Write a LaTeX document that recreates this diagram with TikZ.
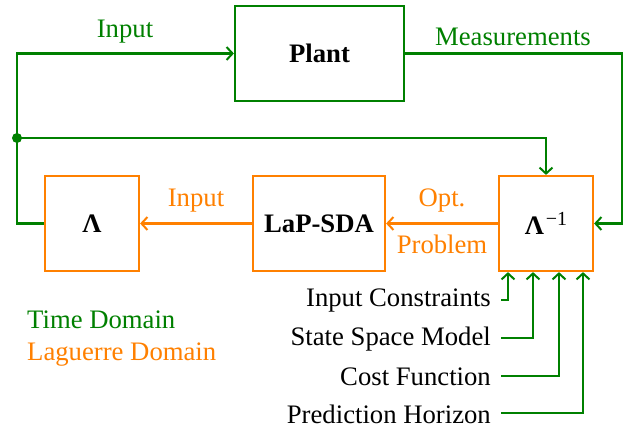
\documentclass[tikz,border=0pt]{standalone}
\usepackage{fontspec}
\setmainfont{Liberation Serif}
\usetikzlibrary{arrows.meta}
\definecolor{tdgreen}{RGB}{0,128,0}
\definecolor{ldorange}{RGB}{255,128,0}
\begin{document}
\begin{tikzpicture}[x=1pt,y=-1pt,
  every node/.style={font=\fontsize{26.7}{30}\selectfont},
  gline/.style={draw=tdgreen,line width=2.2pt},
  oline/.style={draw=ldorange,line width=2.2pt},
  tip/.style={-{Straight Barb[length=6pt,width=13pt,line width=2pt]}},
  gbox/.style={draw=tdgreen,line width=2.2pt,minimum height=95pt,inner sep=0pt},
  obox/.style={draw=ldorange,line width=2.2pt,minimum height=95pt,inner sep=0pt},
  lbl/.style={inner sep=0pt},
  inlbl/.style={inner sep=0pt,anchor=east}]
\useasboundingbox (0,0) rectangle (629,430);
% boxes
\node[gbox,minimum width=169pt] (plant) at (319.5,53.5) {\bfseries Plant};
\node[obox,minimum width=94pt] (lam) at (92,223.5) {\bfseries Λ};
\node[obox,minimum width=94pt] (li) at (546,223.5) {{\bfseries Λ}\kern2pt\raisebox{9pt}{\fontsize{20}{22}\selectfont −1}};
\node[obox,minimum width=132pt] (lap) at (319,223.5) {\bfseries LaP-SDA};
% coordinates
\coordinate (lcorner) at (17,53.5);
\coordinate (rcorner) at (622,53.5);
\coordinate (dot) at (17,138);
% green connectors
\draw[gline,tip] (lam.west) -| (lcorner) -- (plant.west);
\fill[tdgreen] (dot) circle (5pt);
\draw[gline,tip] (dot) -| (li.north);
\draw[gline,tip] (plant.east) -- (rcorner) |- (li.east);
% orange connectors
\draw[oline,tip] (li.west) -- (lap.east);
\draw[oline,tip] (lap.west) -- (lam.east);
% labels
\node[lbl,text=tdgreen] (linput) at (125,32) {Input};
\node[lbl,text=tdgreen] (lmeas) at (513,37) {Measurements};
\node[lbl,text=ldorange] (loinput) at (196,201) {Input};
\node[lbl,text=ldorange] (lopt) at (442,201) {Opt.};
\node[lbl,text=ldorange] (lprob) at (442,244) {Problem};
\node[lbl,text=tdgreen,anchor=west] (ltd) at (27,320) {Time Domain};
\node[lbl,text=ldorange,anchor=west] (lld) at (27,355) {Laguerre Domain};
% bottom inputs
\node[inlbl] (ic) at (491,301) {Input Constraints};
\node[inlbl] (ssm) at (491,339) {State Space Model};
\node[inlbl] (cf) at (491,377) {Cost Function};
\node[inlbl] (ph) at (491,414) {Prediction Horizon};
\draw[gline,tip] ([xshift=10pt,yshift=1pt]ic.east) -| ([xshift=-38pt]li.south);
\draw[gline,tip] ([xshift=10pt,yshift=1pt]ssm.east) -| ([xshift=-13pt]li.south);
\draw[gline,tip] ([xshift=10pt,yshift=1pt]cf.east) -| ([xshift=13pt]li.south);
\draw[gline,tip] ([xshift=10pt,yshift=1pt]ph.east) -| ([xshift=37pt]li.south);
\end{tikzpicture}
\end{document}
